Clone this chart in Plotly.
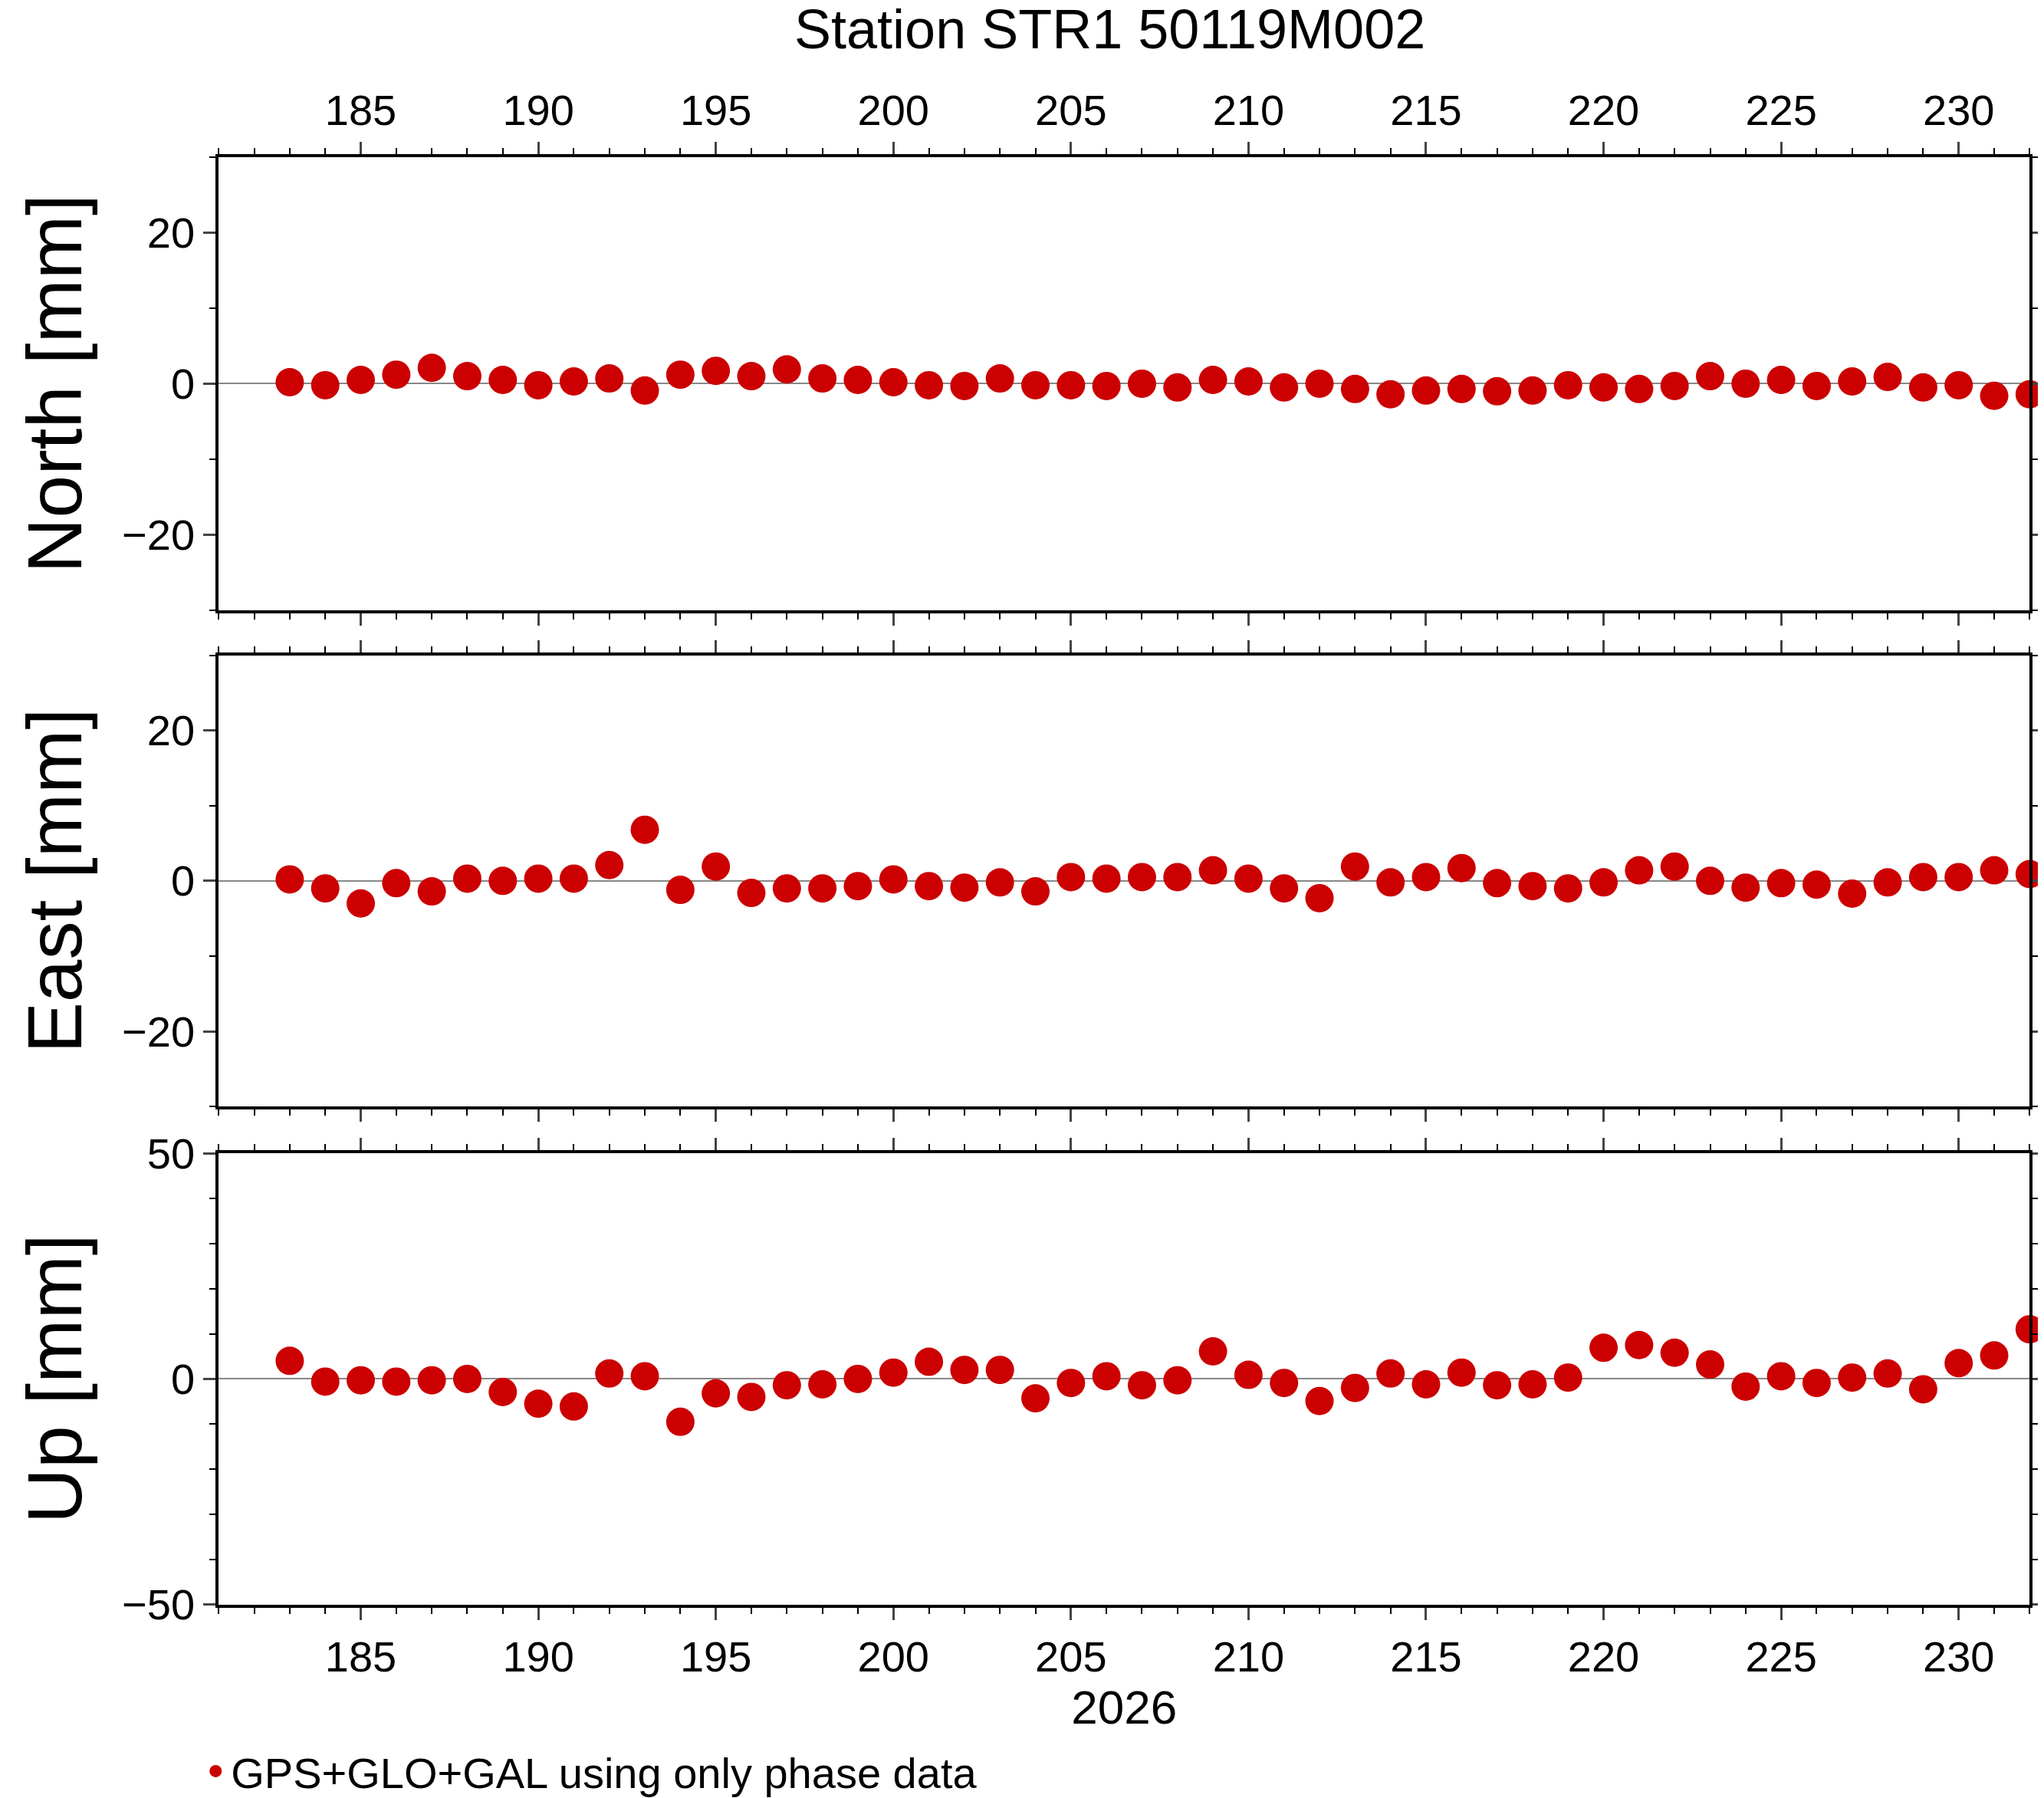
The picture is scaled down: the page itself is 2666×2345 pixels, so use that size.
import plotly.graph_objects as go

days = list(range(183, 233))
north = [0.2, -0.2, 0.5, 1.2, 2.1, 1.0, 0.5, -0.2, 0.3, 0.7,
         -0.9, 1.2, 1.7, 1.0, 1.9, 0.7, 0.5, 0.2, -0.2, -0.3,
         0.7, -0.2, -0.2, -0.3, 0.0, -0.5, 0.5, 0.3, -0.5, 0.0,
         -0.7, -1.4, -0.9, -0.7, -1.0, -0.9, -0.2, -0.5, -0.7, -0.3,
         1.0, 0.0, 0.5, -0.3, 0.3, 0.9, -0.5, -0.2, -1.6, -1.4]
east = [0.2, -1.0, -3.0, -0.3, -1.4, 0.3, 0.0, 0.3, 0.3, 2.1,
        6.8, -1.2, 1.9, -1.6, -1.0, -1.0, -0.7, 0.2, -0.7, -0.9,
        -0.2, -1.4, 0.5, 0.3, 0.5, 0.5, 1.4, 0.3, -1.0, -2.3,
        1.9, -0.2, 0.5, 1.7, -0.3, -0.7, -1.0, -0.2, 1.4, 1.9,
        0.0, -0.9, -0.3, -0.5, -1.7, -0.2, 0.5, 0.5, 1.4, 0.9]
up = [4.0, -0.6, -0.3, -0.6, -0.3, 0.0, -2.9, -5.5, -6.1, 1.2,
      0.6, -9.5, -3.2, -4.0, -1.4, -1.2, 0.0, 1.4, 3.8, 2.0,
      2.0, -4.3, -0.9, 0.6, -1.4, -0.3, 6.1, 0.9, -0.9, -4.9,
      -2.0, 1.2, -1.2, 1.4, -1.4, -1.2, 0.3, 6.9, 7.5, 5.8,
      3.2, -1.7, 0.6, -0.9, 0.3, 1.2, -2.3, 3.5, 5.2, 11.0]

RED = "#cc0000"
FONT = "Liberation Sans, Arial, sans-serif"

fig = go.Figure()
panels = [(north, "North [mm]", [0.664, 0.916], [-30, 30], 20, 10),
          (east, "East [mm]", [0.388, 0.639], [-30, 30], 20, 10),
          (up, "Up [mm]", [0.111, 0.362], [-50, 50], 50, 10)]

for i, (vals, title, dom, rng, dt, mdt) in enumerate(panels, start=1):
    fig.add_trace(go.Scatter(x=days, y=vals, mode="markers", xaxis=f"x{i}", yaxis=f"y{i}",
                             marker=dict(color=RED, size=37),
                             name="GPS+GLO+GAL using only phase data", showlegend=(i == 1),
                             cliponaxis=False))
    side = "top" if i == 1 else "bottom"
    fig.layout[f"xaxis{i}"] = dict(
        domain=[0.104, 0.990], range=[181, 232], anchor=f"y{i}", side=side,
        showticklabels=(i != 2), tick0=180, dtick=5, ticks="outside", ticklen=16,
        tickwidth=3, mirror="allticks", showline=True, linewidth=4, linecolor="black",
        showgrid=False, zeroline=False, tickfont=dict(size=56), automargin=False,
        minor=dict(dtick=1, ticks="outside", ticklen=8, tickwidth=2, tickcolor="black"),
        title=dict(text="2026", font=dict(size=62), standoff=4) if i == 3 else None)
    fig.layout[f"yaxis{i}"] = dict(
        domain=dom, range=rng, anchor=f"x{i}", dtick=dt, ticks="outside", ticklen=16,
        tickwidth=3, mirror="allticks", showline=True, linewidth=4, linecolor="black",
        showgrid=False, zeroline=True, zerolinecolor="#888888", zerolinewidth=2,
        tickfont=dict(size=56), automargin=False,
        minor=dict(dtick=mdt, ticks="outside", ticklen=8, tickwidth=2, tickcolor="black"),
        title=dict(text=title, font=dict(size=100), standoff=20))

fig.update_layout(
    width=2666, height=2345, template="plotly_white",
    paper_bgcolor="white", plot_bgcolor="white",
    font=dict(family=FONT, color="black"),
    margin=dict(l=0, r=0, t=0, b=0, autoexpand=False),
    title=dict(text="Station STR1 50119M002", x=0.54, xanchor="center", y=0.998,
               yanchor="top", font=dict(size=72)),
    legend=dict(x=0.095, y=0.0, xanchor="left", yanchor="bottom",
                font=dict(size=56), itemsizing="trace"),
)

fig.write_html("out.html")
